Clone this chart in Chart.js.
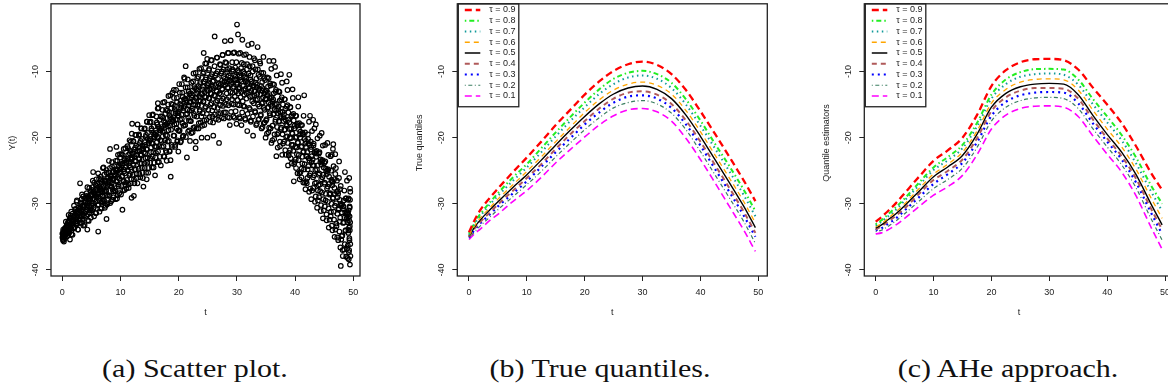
<!DOCTYPE html>
<html><head><meta charset="utf-8">
<script src="https://cdn.jsdelivr.net/npm/chart.js@4.4.1/dist/chart.umd.min.js"></script>
<style>
html,body{margin:0;padding:0;background:#fff;width:1168px;height:390px;overflow:hidden;position:relative}
canvas{position:absolute;top:0}
.cap{position:absolute;top:355px;font-family:"Liberation Serif","Times New Roman",serif;font-size:25px;color:#111;white-space:nowrap;transform-origin:center;}
</style></head><body>
<canvas id="pa" width="390" height="330" style="left:0px"></canvas>
<canvas id="pb" width="390" height="330" style="left:390px"></canvas>
<canvas id="pc" width="400" height="330" style="left:780px"></canvas>
<div class="cap" id="capa"></div>
<div class="cap" id="capb"></div>
<div class="cap" id="capc"></div>
<script>
// ---------------- data ----------------
const xTicks = [0, 10, 20, 30, 40, 50];
const xTickLabels = ['0', '10', '20', '30', '40', '50'];
const yTicks = [-40, -30, -20, -10];
const yTickLabels = ['-40', '-30', '-20', '-10'];
const xTitle = 't';
const yTitles = ['Y(t)', 'True quantiles', 'Quantile estimators'];
const captions = ['(a) Scatter plot.', '(b) True quantiles.', '(c) AHe approach.'];
const tauLabels = ['τ = 0.9', 'τ = 0.8', 'τ = 0.7', 'τ = 0.6', 'τ = 0.5', 'τ = 0.4', 'τ = 0.3', 'τ = 0.2', 'τ = 0.1'];

const tGrid = [0, 1, 2, 3.5, 5, 7.5, 10, 12.5, 15, 17.5, 20, 22.5, 25, 27.5, 30, 32.5, 35, 37.5, 40, 42.5, 45, 47.5, 49.5];

const trueQ90 = [-34.3,-32.4,-30.9,-29.2,-27.7,-25.3,-23.0,-20.6,-18.1,-15.8,-13.5,-11.5,-9.9,-8.9,-8.5,-9.0,-10.4,-12.8,-16.0,-19.4,-22.9,-26.5,-29.6];
const trueQ80 = [-34.5,-32.8,-31.5,-29.9,-28.4,-26.1,-24.0,-21.6,-19.2,-16.9,-14.7,-12.7,-11.1,-10.2,-9.9,-10.4,-11.7,-14.2,-17.4,-20.9,-24.3,-27.9,-31.1];
const trueQ70 = [-34.7,-33.0,-31.8,-30.2,-28.8,-26.6,-24.5,-22.2,-19.8,-17.5,-15.4,-13.4,-11.9,-10.9,-10.6,-11.1,-12.5,-15.0,-18.2,-21.6,-25.1,-28.7,-31.9];
const trueQ60 = [-34.8,-33.3,-32.1,-30.7,-29.3,-27.2,-25.1,-22.9,-20.6,-18.4,-16.2,-14.3,-12.8,-11.9,-11.6,-12.1,-13.4,-15.9,-19.1,-22.6,-26.1,-29.7,-32.9];
const trueQ50 = [-34.9,-33.5,-32.4,-31.0,-29.7,-27.6,-25.6,-23.4,-21.1,-18.9,-16.8,-14.9,-13.4,-12.5,-12.2,-12.7,-14.1,-16.6,-19.8,-23.3,-26.8,-30.4,-33.6];
const trueQ40 = [-35.0,-33.7,-32.7,-31.4,-30.1,-28.1,-26.1,-24.0,-21.7,-19.5,-17.5,-15.6,-14.1,-13.2,-13.0,-13.5,-14.9,-17.4,-20.6,-24.1,-27.6,-31.2,-34.4];
const trueQ30 = [-35.1,-33.9,-32.9,-31.7,-30.4,-28.5,-26.6,-24.4,-22.2,-20.1,-18.0,-16.2,-14.7,-13.8,-13.6,-14.1,-15.5,-18.0,-21.2,-24.7,-28.2,-31.8,-35.0];
const trueQ20 = [-35.2,-34.2,-33.3,-32.1,-30.9,-29.0,-27.1,-25.1,-22.9,-20.8,-18.8,-17.0,-15.5,-14.7,-14.4,-14.9,-16.3,-18.8,-22.1,-25.6,-29.1,-32.7,-36.0];
const trueQ10 = [-35.4,-34.5,-33.8,-32.6,-31.6,-29.7,-28.0,-26.0,-23.8,-21.8,-19.9,-18.1,-16.7,-15.8,-15.6,-16.1,-17.5,-20.1,-23.3,-26.8,-30.4,-34.0,-37.2];

const aheQ90 = [-32.7,-32.0,-31.2,-29.9,-28.4,-25.9,-23.5,-21.9,-20.0,-16.6,-12.2,-9.8,-8.6,-8.15,-8.1,-8.3,-9.7,-12.4,-15.0,-17.8,-21.3,-25.2,-27.9];
const aheQ80 = [-33.1,-32.5,-31.7,-30.5,-29.2,-26.8,-24.5,-22.9,-21.1,-17.8,-13.5,-11.2,-10.1,-9.65,-9.6,-9.7,-11.2,-14.1,-16.8,-19.6,-23.0,-27.1,-30.0];
const aheQ70 = [-33.3,-32.7,-32.0,-30.9,-29.5,-27.2,-24.9,-23.4,-21.6,-18.3,-14.1,-11.9,-10.8,-10.4,-10.3,-10.5,-12.0,-14.9,-17.7,-20.4,-23.9,-28.0,-31.1];
const aheQ60 = [-33.5,-33.0,-32.3,-31.2,-30.0,-27.7,-25.5,-24.0,-22.2,-19.0,-14.8,-12.7,-11.6,-11.2,-11.1,-11.25,-12.8,-15.8,-18.7,-21.4,-24.8,-29.0,-32.2];
const aheQ50 = [-33.7,-33.2,-32.5,-31.5,-30.3,-28.1,-25.9,-24.4,-22.7,-19.5,-15.4,-13.3,-12.3,-11.9,-11.8,-11.9,-13.5,-16.6,-19.5,-22.2,-25.6,-29.9,-33.2];
const aheQ40 = [-33.9,-33.4,-32.8,-31.8,-30.7,-28.5,-26.4,-25.0,-23.3,-20.1,-16.0,-13.9,-12.9,-12.5,-12.5,-12.6,-14.1,-17.2,-20.1,-22.8,-26.2,-30.6,-33.9];
const aheQ30 = [-34.0,-33.7,-33.1,-32.2,-31.0,-29.0,-27.0,-25.5,-23.8,-20.7,-16.7,-14.6,-13.6,-13.2,-13.1,-13.2,-14.8,-17.8,-20.6,-23.3,-26.8,-31.2,-34.6];
const aheQ20 = [-34.2,-34.0,-33.5,-32.6,-31.5,-29.6,-27.7,-26.3,-24.6,-21.5,-17.5,-15.4,-14.4,-14.0,-13.9,-14.1,-15.6,-18.6,-21.4,-24.1,-27.6,-32.1,-35.5];
const aheQ10 = [-34.55,-34.4,-34.0,-33.2,-32.2,-30.4,-28.7,-27.4,-25.7,-22.6,-18.7,-16.6,-15.6,-15.25,-15.2,-15.4,-16.8,-19.7,-22.5,-25.2,-28.8,-33.4,-36.9];

const scatterTY = [
[0.02,-35.1],[0.08,-34.6],[0.11,-35.5],[0.15,-34.2],[0.19,-35.0],[0.24,-34.8],[0.28,-35.7],[0.31,-34.3],[0.36,-34.9],[0.4,-33.8],[0.45,-35.2],[0.5,-34.4],[0.55,-33.9],[0.6,-34.7],[0.66,-33.5],[0.71,-34.1],[0.77,-33.2],[0.83,-34.5],[0.9,-33.6],[0.96,-32.8],
[1.03,-33.9],[1.1,-32.6],[1.17,-34.3],[1.22,-33.1],[1.3,-32.2],[1.32,-35.4],[1.36,-33.6],[1.42,-31.8],[1.5,-33.0],[1.57,-34.6],[1.63,-32.5],[1.7,-33.3],[1.76,-31.5],[1.83,-32.9],[1.9,-33.7],[1.96,-32.0],
[2.05,-31.9],[2.12,-33.5],[2.2,-30.8],[2.28,-32.3],[2.35,-31.2],[2.43,-33.0],[2.5,-29.5],[2.58,-32.0],[2.65,-31.5],[2.72,-33.9],[2.8,-30.6],[2.87,-32.4],[2.95,-31.0],[3.05,-26.9],
[3.1,-30.2],[3.16,-32.4],[3.24,-31.0],[3.31,-29.3],[3.39,-32.9],[3.46,-30.8],[3.53,-31.6],[3.6,-28.9],[3.68,-31.9],[3.75,-30.3],[3.83,-33.2],[3.9,-29.8],[3.97,-31.2],
[4.04,-29.6],[4.11,-31.8],[4.19,-28.4],[4.26,-30.9],[4.3,-33.9],[4.34,-29.9],[4.41,-32.5],[4.49,-28.9],[4.56,-30.4],[4.64,-27.6],[4.71,-31.3],[4.79,-29.2],[4.86,-30.8],[4.94,-28.6],
[5.03,-28.7],[5.1,-31.0],[5.18,-27.5],[5.25,-29.9],[5.3,-25.2],[5.33,-28.2],[5.4,-30.6],[5.48,-26.8],[5.55,-29.3],[5.63,-27.9],[5.7,-31.4],[5.78,-28.5],[5.85,-26.3],[5.93,-29.6],
[6.02,-27.6],[6.09,-30.2],[6.17,-34.2],[6.24,-28.4],[6.32,-26.2],[6.39,-29.1],[6.47,-27.0],[6.54,-30.7],[6.62,-25.9],[6.69,-28.0],[6.77,-29.8],[6.84,-26.7],[6.92,-28.9],[6.98,-24.6],
[7.05,-27.3],[7.12,-29.5],[7.2,-25.6],[7.27,-28.1],[7.35,-26.5],[7.42,-30.3],[7.5,-27.9],[7.57,-24.9],[7.6,-32.3],[7.65,-28.7],[7.72,-26.1],[7.8,-29.9],[7.87,-27.0],[7.95,-25.3],
[8.03,-26.5],[8.1,-28.8],[8.18,-24.6],[8.2,-21.7],[8.25,-27.3],[8.33,-25.8],[8.4,-29.6],[8.48,-26.9],[8.55,-23.7],[8.63,-27.8],[8.7,-25.2],[8.78,-29.0],[8.85,-26.2],[8.93,-24.3],
[9.04,-25.7],[9.11,-28.1],[9.19,-23.5],[9.26,-26.6],[9.3,-21.4],[9.34,-24.9],[9.41,-29.2],[9.49,-26.0],[9.56,-22.6],[9.64,-27.1],[9.71,-24.3],[9.79,-28.4],[9.86,-25.3],[9.94,-23.0],
[10.03,-24.8],[10.1,-27.3],[10.18,-22.5],[10.25,-25.9],[10.33,-30.9],[10.4,-23.9],[10.48,-26.5],[10.55,-21.7],[10.63,-25.1],[10.7,-27.9],[10.78,-23.2],[10.85,-24.5],[10.93,-26.8],
[11.04,-23.8],[11.11,-26.4],[11.19,-21.3],[11.26,-24.9],[11.34,-22.6],[11.41,-27.6],[11.49,-24.2],[11.56,-20.4],[11.64,-25.5],[11.71,-22.0],[11.79,-26.9],[11.86,-23.3],[11.9,-29.1],[11.94,-19.4],
[12.0,-17.9],[12.03,-23.1],[12.1,-25.6],[12.18,-20.5],[12.25,-24.2],[12.3,-28.8],[12.33,-21.8],[12.4,-26.9],[12.48,-23.5],[12.55,-19.6],[12.63,-24.8],[12.7,-21.2],[12.78,-26.1],[12.85,-22.6],[12.93,-18.0],
[13.04,-22.1],[13.11,-24.7],[13.19,-19.5],[13.26,-23.2],[13.34,-20.8],[13.41,-26.0],[13.49,-22.5],[13.56,-18.6],[13.64,-23.9],[13.71,-20.2],[13.79,-25.3],[13.86,-21.6],[13.94,-27.4],
[14.03,-21.3],[14.1,-23.9],[14.18,-18.6],[14.25,-22.4],[14.33,-19.9],[14.4,-25.3],[14.48,-21.7],[14.5,-26.3],[14.55,-17.6],[14.63,-23.0],[14.7,-19.3],[14.78,-24.6],[14.85,-20.8],[14.93,-16.6],
[15.04,-20.4],[15.11,-23.1],[15.19,-17.6],[15.26,-21.5],[15.34,-18.9],[15.41,-24.5],[15.49,-20.8],[15.56,-16.5],[15.64,-22.2],[15.71,-18.3],[15.79,-23.8],[15.86,-19.9],[15.94,-25.7],
[16.03,-19.6],[16.1,-22.3],[16.18,-16.8],[16.25,-20.7],[16.33,-18.0],[16.4,-23.7],[16.42,-14.8],[16.48,-19.9],[16.55,-15.5],[16.63,-21.3],[16.7,-17.3],[16.78,-22.9],[16.85,-18.9],[16.93,-24.2],
[17.04,-18.7],[17.11,-21.4],[17.19,-15.8],[17.26,-19.8],[17.34,-17.0],[17.41,-22.8],[17.49,-19.0],[17.56,-14.6],[17.64,-20.4],[17.71,-16.4],[17.79,-22.0],[17.86,-18.0],[17.94,-23.5],
[18.03,-17.9],[18.1,-20.6],[18.18,-15.0],[18.25,-18.9],[18.33,-16.1],[18.4,-22.0],[18.48,-18.2],[18.55,-13.6],[18.6,-23.4],[18.63,-25.9],[18.7,-15.6],[18.78,-21.1],[18.85,-17.2],[18.93,-13.2],
[19.04,-16.9],[19.11,-19.7],[19.19,-14.0],[19.26,-18.0],[19.34,-15.2],[19.41,-21.1],[19.49,-17.3],[19.56,-12.8],[19.64,-18.6],[19.71,-14.6],[19.79,-20.4],[19.86,-16.3],[19.94,-22.1],
[20.03,-16.1],[20.1,-19.0],[20.18,-13.2],[20.25,-17.3],[20.33,-14.4],[20.4,-20.5],[20.48,-16.5],[20.55,-11.9],[20.63,-17.8],[20.7,-13.8],[20.78,-19.7],[20.85,-15.5],[20.93,-10.9],
[21.04,-15.2],[21.11,-18.1],[21.19,-12.4],[21.2,-9.2],[21.26,-16.5],[21.34,-13.6],[21.41,-23.0],[21.49,-15.7],[21.56,-11.2],[21.64,-17.0],[21.71,-13.0],[21.79,-18.9],[21.86,-14.7],[21.94,-20.5],
[22.03,-14.6],[22.1,-17.5],[22.18,-11.7],[22.25,-15.9],[22.33,-12.9],[22.4,-19.2],[22.48,-15.0],[22.55,-10.3],[22.63,-16.4],[22.7,-12.2],[22.78,-18.4],[22.86,-14.0],[22.9,-21.6],[22.93,-20.6],
[23.04,-14.0],[23.11,-16.8],[23.19,-11.0],[23.26,-15.2],[23.34,-12.2],[23.41,-18.6],[23.49,-14.4],[23.56,-9.6],[23.64,-15.8],[23.71,-11.6],[23.79,-17.7],[23.86,-13.4],[23.94,-20.0],
[24.03,-13.4],[24.1,-16.3],[24.18,-10.3],[24.25,-14.6],[24.3,-7.2],[24.33,-11.5],[24.4,-18.1],[24.48,-13.8],[24.55,-8.8],[24.63,-15.3],[24.7,-10.9],[24.78,-17.3],[24.86,-12.8],[24.9,-8.1],[24.93,-20.0],
[25.04,-12.9],[25.11,-15.8],[25.19,-9.8],[25.26,-14.1],[25.34,-11.0],[25.41,-17.6],[25.49,-13.3],[25.56,-8.3],[25.64,-14.8],[25.71,-10.4],[25.79,-16.8],[25.86,-12.3],[25.94,-19.7],
[26.03,-12.5],[26.1,-15.4],[26.18,-4.7],[26.25,-13.7],[26.33,-10.6],[26.4,-17.2],[26.48,-12.9],[26.55,-7.9],[26.63,-14.4],[26.7,-10.0],[26.78,-16.4],[26.86,-11.9],[26.93,-20.8],
[27.04,-12.2],[27.11,-15.1],[27.19,-9.0],[27.26,-13.5],[27.34,-10.3],[27.41,-17.0],[27.48,-12.6],[27.56,-7.5],[27.63,-14.1],[27.71,-9.7],[27.78,-16.2],[27.86,-11.6],[27.93,-5.4],
[28.03,-12.0],[28.1,-15.0],[28.18,-8.7],[28.25,-13.3],[28.33,-10.1],[28.4,-16.9],[28.48,-12.4],[28.55,-7.2],[28.63,-13.9],[28.7,-9.5],[28.78,-18.1],[28.86,-11.4],[28.93,-5.3],
[29.04,-11.9],[29.11,-14.9],[29.19,-8.6],[29.26,-13.2],[29.34,-10.0],[29.41,-16.8],[29.48,-12.3],[29.56,-7.1],[29.63,-13.8],[29.71,-9.4],[29.78,-16.0],[29.86,-11.3],[29.93,-17.9],
[30.02,-2.9],[30.04,-12.0],[30.11,-15.0],[30.19,-4.4],[30.26,-13.3],[30.34,-10.1],[30.41,-16.9],[30.48,-12.4],[30.56,-7.2],[30.63,-13.9],[30.71,-9.5],[30.78,-18.1],[30.86,-11.5],[30.93,-5.2],
[31.04,-12.2],[31.11,-15.2],[31.19,-8.9],[31.26,-13.5],[31.34,-10.3],[31.41,-17.1],[31.48,-12.6],[31.56,-7.4],[31.63,-14.1],[31.71,-9.7],[31.78,-19.0],[31.86,-11.7],[31.93,-6.0],
[32.04,-12.5],[32.11,-15.5],[32.19,-9.2],[32.26,-13.8],[32.34,-10.6],[32.41,-17.4],[32.48,-12.9],[32.56,-5.8],[32.63,-14.5],[32.71,-10.0],[32.78,-19.7],[32.86,-12.1],[32.93,-8.0],
[33.04,-13.0],[33.11,-16.0],[33.19,-9.7],[33.26,-14.3],[33.34,-11.1],[33.41,-17.9],[33.48,-13.4],[33.56,-6.3],[33.63,-15.0],[33.71,-10.5],[33.78,-17.2],[33.86,-12.6],[33.93,-8.5],
[34.04,-13.5],[34.11,-16.5],[34.19,-10.2],[34.26,-14.8],[34.34,-11.6],[34.41,-18.4],[34.48,-13.9],[34.56,-7.8],[34.63,-15.5],[34.71,-11.0],[34.78,-17.7],[34.86,-13.1],[34.93,-20.0],
[35.04,-14.2],[35.11,-17.2],[35.19,-10.9],[35.26,-15.5],[35.34,-12.3],[35.41,-19.2],[35.48,-14.7],[35.56,-8.4],[35.63,-16.3],[35.71,-11.8],[35.78,-18.6],[35.86,-13.9],[35.93,-20.8],
[36.04,-15.2],[36.11,-18.2],[36.19,-11.9],[36.26,-16.5],[36.3,-8.4],[36.34,-13.3],[36.41,-20.2],[36.48,-15.7],[36.56,-9.3],[36.63,-17.3],[36.71,-12.8],[36.78,-22.8],[36.86,-14.9],[36.93,-19.5],
[37.04,-16.3],[37.11,-19.3],[37.19,-13.0],[37.26,-17.6],[37.34,-14.4],[37.41,-21.3],[37.48,-16.8],[37.56,-10.4],[37.63,-18.5],[37.71,-13.9],[37.78,-22.6],[37.86,-16.1],[37.93,-20.9],
[38.04,-17.5],[38.11,-20.6],[38.19,-14.2],[38.26,-18.8],[38.34,-15.6],[38.41,-22.6],[38.48,-18.0],[38.56,-11.5],[38.63,-19.8],[38.71,-15.1],[38.78,-24.2],[38.86,-17.3],[38.93,-22.3],
[39.0,-10.5],[39.04,-18.7],[39.11,-21.9],[39.19,-15.4],[39.26,-20.1],[39.34,-16.8],[39.41,-23.9],[39.48,-19.3],[39.56,-12.7],[39.63,-21.1],[39.71,-16.4],[39.78,-26.6],[39.86,-18.6],[39.93,-23.7],
[40.04,-20.0],[40.11,-23.3],[40.19,-16.7],[40.26,-21.5],[40.34,-18.1],[40.41,-25.4],[40.48,-20.7],[40.56,-13.9],[40.63,-22.6],[40.71,-17.8],[40.78,-26.3],[40.86,-20.0],[40.93,-25.2],
[41.04,-21.4],[41.11,-24.7],[41.19,-18.1],[41.26,-22.9],[41.34,-19.5],[41.41,-26.8],[41.48,-22.1],[41.56,-13.6],[41.63,-24.0],[41.71,-19.2],[41.78,-27.8],[41.86,-21.4],[41.93,-26.6],
[42.04,-22.8],[42.11,-26.1],[42.19,-19.5],[42.26,-24.3],[42.34,-20.9],[42.41,-28.2],[42.48,-23.5],[42.56,-16.7],[42.63,-25.4],[42.71,-20.6],[42.78,-29.3],[42.86,-22.8],[42.93,-28.0],
[43.04,-24.2],[43.1,-17.3],[43.11,-27.6],[43.19,-20.9],[43.26,-25.7],[43.34,-22.3],[43.41,-29.7],[43.48,-24.9],[43.56,-18.0],[43.63,-26.8],[43.71,-22.0],[43.78,-30.6],[43.86,-24.2],[43.93,-29.5],
[44.04,-25.6],[44.11,-29.0],[44.19,-22.2],[44.26,-27.1],[44.34,-23.7],[44.41,-31.1],[44.48,-26.3],[44.56,-19.3],[44.63,-28.3],[44.71,-23.4],[44.78,-32.2],[44.86,-25.6],[44.93,-31.0],
[45.04,-27.0],[45.11,-30.4],[45.19,-23.6],[45.26,-28.5],[45.34,-25.1],[45.41,-32.5],[45.48,-27.7],[45.56,-20.8],[45.63,-29.7],[45.71,-24.8],[45.78,-33.6],[45.86,-27.0],[45.93,-32.4],
[46.04,-28.4],[46.11,-31.9],[46.19,-25.0],[46.26,-30.0],[46.3,-22.6],[46.34,-26.6],[46.41,-34.0],[46.48,-29.2],[46.5,-21.7],[46.56,-21.0],[46.63,-31.2],[46.71,-26.3],[46.78,-35.0],[46.86,-28.5],[46.9,-22.5],[46.93,-33.9],
[47.04,-29.9],[47.11,-33.4],[47.19,-26.5],[47.26,-31.5],[47.34,-28.1],[47.41,-35.5],[47.48,-30.7],[47.56,-23.6],[47.63,-32.7],[47.71,-27.8],[47.78,-36.6],[47.85,-39.4],[47.86,-30.0],[47.93,-35.4],
[48.04,-31.3],[48.11,-34.8],[48.19,-37.9],[48.26,-32.9],[48.34,-29.5],[48.41,-36.9],[48.48,-32.1],[48.56,-25.2],[48.63,-34.1],[48.71,-29.2],[48.78,-38.0],[48.86,-31.4],[48.93,-36.8],
[49.02,-32.8],[49.06,-36.3],[49.1,-29.4],[49.14,-34.4],[49.18,-31.0],[49.22,-38.4],[49.26,-33.6],[49.28,-37.0],[49.3,-26.1],[49.34,-35.5],[49.36,-31.9],[49.38,-30.6],[49.4,-34.0],[49.42,-39.2],[49.44,-29.4],[49.46,-32.8],[49.48,-28.2],[49.5,-37.9]
];

const scatterTY2 = [
[0.01,-34.5],[0.09,-35.0],[0.16,-33.9],[0.24,-35.4],[0.31,-34.4],[0.39,-34.9],[0.46,-33.7],[0.54,-34.2],[0.61,-32.7],[0.69,-34.6],[0.76,-33.4],[0.84,-34.9],[0.91,-33.4],
[1.01,-33.3],[1.09,-31.7],[1.16,-34.4],[1.24,-32.8],[1.31,-33.7],[1.39,-32.1],[1.46,-33.1],[1.54,-31.2],[1.61,-34.0],[1.69,-32.4],[1.76,-34.7],[1.84,-32.7],[1.91,-32.5],
[2.01,-30.3],[2.09,-33.6],[2.16,-31.7],[2.24,-32.7],[2.31,-30.8],[2.39,-32.0],[2.46,-29.7],[2.54,-33.1],[2.61,-31.2],[2.69,-33.9],[2.76,-31.5],[2.84,-31.3],[2.91,-32.3],
[3.01,-32.9],[3.09,-30.7],[3.16,-31.9],[3.24,-29.8],[3.31,-31.1],[3.39,-28.6],[3.46,-32.4],[3.54,-30.2],[3.61,-33.3],[3.69,-30.5],[3.76,-30.3],[3.84,-31.4],[3.91,-29.2],
[4.01,-29.8],[4.09,-31.1],[4.16,-28.8],[4.24,-30.2],[4.31,-27.5],[4.39,-31.6],[4.46,-29.2],[4.54,-32.6],[4.61,-29.6],[4.69,-29.4],[4.76,-30.5],[4.84,-28.2],[4.91,-32.1],
[5.01,-30.3],[5.09,-27.9],[5.16,-29.4],[5.24,-26.5],[5.31,-30.8],[5.39,-28.3],[5.46,-31.9],[5.54,-28.7],[5.61,-28.5],[5.69,-29.7],[5.76,-27.2],[5.84,-31.4],[5.91,-28.9],
[6.01,-26.9],[6.09,-28.6],[6.16,-25.4],[6.24,-30.1],[6.31,-27.4],[6.39,-31.2],[6.46,-27.8],[6.54,-27.6],[6.61,-28.9],[6.69,-26.3],[6.76,-30.7],[6.84,-28.1],[6.91,-29.6],
[7.01,-27.8],[7.09,-24.5],[7.16,-29.4],[7.24,-26.6],[7.31,-30.6],[7.39,-27.0],[7.46,-26.7],[7.54,-28.1],[7.61,-25.3],[7.69,-30.1],[7.76,-27.3],[7.84,-28.8],[7.91,-26.0],
[8.01,-23.5],[8.09,-28.7],[8.16,-25.7],[8.24,-29.9],[8.31,-26.2],[8.39,-25.9],[8.46,-27.4],[8.54,-24.4],[8.61,-29.4],[8.69,-26.4],[8.76,-28.1],[8.84,-25.1],[8.91,-27.0],
[9.01,-28.0],[9.09,-24.8],[9.16,-29.3],[9.24,-25.3],[9.31,-25.0],[9.39,-26.6],[9.46,-23.5],[9.54,-28.7],[9.61,-25.6],[9.69,-27.4],[9.76,-24.2],[9.84,-26.2],[9.91,-22.5],
[10.01,-24.0],[10.09,-28.6],[10.16,-24.5],[10.24,-24.2],[10.31,-25.8],[10.39,-22.6],[10.46,-28.0],[10.54,-24.8],[10.61,-26.6],[10.69,-23.4],[10.76,-25.4],[10.84,-21.6],[10.91,-27.2],
[11.01,-27.7],[11.09,-23.5],[11.16,-23.2],[11.24,-24.9],[11.31,-21.6],[11.39,-27.1],[11.46,-23.8],[11.54,-25.7],[11.61,-22.4],[11.69,-24.5],[11.76,-20.6],[11.84,-26.3],[11.91,-23.0],
[12.01,-22.6],[12.09,-22.3],[12.16,-24.0],[12.24,-20.6],[12.31,-26.3],[12.39,-22.9],[12.46,-24.8],[12.54,-21.5],[12.61,-23.6],[12.69,-19.6],[12.76,-25.5],[12.84,-22.1],[12.91,-26.9],
[13.01,-21.4],[13.09,-23.1],[13.16,-19.7],[13.24,-25.5],[13.31,-22.0],[13.39,-23.9],[13.46,-20.5],[13.54,-22.7],[13.61,-18.6],[13.69,-24.6],[13.76,-21.2],[13.84,-26.1],[13.91,-21.7],
[14.01,-22.2],[14.09,-18.7],[14.16,-24.6],[14.24,-21.1],[14.31,-23.1],[14.39,-19.6],[14.46,-21.8],[14.54,-17.6],[14.61,-23.8],[14.69,-20.2],[14.76,-25.3],[14.84,-20.8],[14.91,-20.5],
[15.01,-17.7],[15.09,-23.8],[15.16,-20.2],[15.24,-22.2],[15.31,-18.6],[15.39,-20.9],[15.46,-16.6],[15.54,-22.9],[15.61,-19.3],[15.69,-24.5],[15.76,-19.9],[15.84,-19.5],[15.91,-21.3],
[16.01,-23.0],[16.09,-19.3],[16.16,-21.4],[16.24,-17.7],[16.31,-20.0],[16.39,-15.6],[16.46,-22.1],[16.54,-18.4],[16.61,-23.7],[16.69,-18.9],[16.76,-18.6],[16.84,-20.4],[16.91,-16.8],
[17.01,-18.4],[17.09,-20.5],[17.16,-16.8],[17.24,-19.1],[17.31,-14.7],[17.39,-21.3],[17.46,-17.5],[17.54,-22.9],[17.61,-18.1],[17.69,-17.7],[17.76,-19.6],[17.84,-15.8],[17.91,-22.2],
[18.01,-19.7],[18.09,-15.9],[18.16,-18.3],[18.24,-13.7],[18.31,-20.5],[18.39,-16.6],[18.46,-22.1],[18.54,-17.2],[18.61,-16.9],[18.69,-18.8],[18.76,-14.9],[18.84,-21.4],[18.91,-17.6],
[19.01,-15.0],[19.09,-17.4],[19.16,-12.8],[19.24,-19.7],[19.31,-15.7],[19.39,-21.4],[19.46,-16.3],[19.54,-16.0],[19.61,-17.9],[19.69,-14.0],[19.76,-20.6],[19.84,-16.7],[19.91,-18.9],
[20.01,-16.7],[20.09,-11.9],[20.16,-18.9],[20.24,-14.9],[20.31,-20.7],[20.39,-15.5],[20.46,-15.2],[20.54,-17.2],[20.61,-13.2],[20.69,-19.9],[20.76,-15.9],[20.84,-18.2],[20.91,-14.2],
[21.01,-11.1],[21.09,-18.1],[21.16,-14.1],[21.24,-19.9],[21.31,-14.7],[21.39,-14.4],[21.46,-16.4],[21.54,-12.4],[21.61,-19.1],[21.69,-15.1],[21.76,-17.4],[21.84,-13.4],[21.91,-15.9],
[22.01,-17.5],[22.09,-13.3],[22.16,-19.3],[22.24,-13.9],[22.31,-13.6],[22.39,-15.6],[22.46,-11.5],[22.54,-18.5],[22.61,-14.3],[22.69,-16.7],[22.76,-12.5],[22.84,-15.1],[22.91,-10.2],
[23.01,-12.6],[23.09,-18.6],[23.16,-13.3],[23.24,-12.9],[23.31,-15.0],[23.39,-10.8],[23.46,-17.8],[23.54,-13.7],[23.61,-16.0],[23.69,-11.9],[23.76,-14.5],[23.84,-9.5],[23.91,-16.8],
[24.01,-18.2],[24.09,-12.7],[24.16,-12.3],[24.24,-14.5],[24.31,-10.1],[24.39,-17.4],[24.46,-13.1],[24.54,-15.5],[24.61,-11.2],[24.69,-13.9],[24.76,-8.8],[24.84,-16.4],[24.91,-12.0],
[25.01,-12.2],[25.09,-11.8],[25.16,-14.0],[25.24,-9.6],[25.31,-16.9],[25.39,-12.6],[25.46,-15.0],[25.54,-10.7],[25.61,-13.4],[25.69,-8.3],[25.76,-15.9],[25.84,-11.5],[25.91,-17.7],
[26.01,-11.4],[26.09,-13.6],[26.16,-9.2],[26.24,-16.5],[26.31,-12.2],[26.39,-14.6],[26.46,-10.3],[26.54,-13.0],[26.61,-7.9],[26.69,-15.5],[26.76,-11.1],[26.84,-17.3],[26.91,-11.8],
[27.01,-13.3],[27.09,-8.9],[27.16,-16.3],[27.24,-11.9],[27.31,-14.4],[27.39,-10.0],[27.46,-12.7],[27.54,-7.5],[27.61,-15.2],[27.69,-10.8],[27.76,-17.1],[27.84,-11.5],[27.91,-11.1],
[28.01,-8.6],[28.09,-16.2],[28.16,-11.7],[28.24,-14.2],[28.31,-9.7],[28.39,-12.5],[28.46,-7.2],[28.54,-15.1],[28.61,-10.6],[28.69,-17.0],[28.76,-11.3],[28.84,-10.9],[28.91,-13.1],
[29.01,-16.1],[29.09,-11.6],[29.16,-14.2],[29.24,-9.7],[29.31,-12.5],[29.39,-7.2],[29.46,-15.0],[29.54,-10.5],[29.61,-17.0],[29.69,-11.2],[29.76,-10.8],[29.84,-13.0],[29.91,-8.6],
[30.01,-11.7],[30.09,-14.3],[30.16,-9.8],[30.24,-12.6],[30.31,-7.3],[30.39,-15.1],[30.46,-10.6],[30.54,-17.1],[30.61,-11.3],[30.69,-10.9],[30.76,-13.1],[30.84,-8.7],[30.91,-16.2],
[31.01,-14.5],[31.09,-10.0],[31.16,-12.8],[31.24,-7.5],[31.31,-15.3],[31.39,-10.8],[31.46,-17.3],[31.54,-11.5],[31.61,-11.1],[31.69,-13.3],[31.76,-8.9],[31.84,-16.4],[31.91,-11.9],
[32.01,-10.3],[32.09,-13.1],[32.16,-7.8],[32.24,-15.7],[32.31,-11.2],[32.39,-17.6],[32.46,-11.9],[32.54,-11.5],[32.61,-13.7],[32.69,-9.2],[32.76,-16.8],[32.84,-12.3],[32.91,-14.8],
[33.01,-13.6],[33.09,-8.3],[33.16,-16.2],[33.24,-11.7],[33.31,-18.1],[33.39,-12.4],[33.46,-12.0],[33.54,-14.2],[33.61,-9.7],[33.69,-17.3],[33.76,-12.8],[33.84,-15.3],[33.91,-10.8],
[34.01,-8.8],[34.09,-16.7],[34.16,-12.2],[34.24,-18.6],[34.31,-12.9],[34.39,-12.5],[34.46,-14.7],[34.54,-10.2],[34.61,-17.8],[34.69,-13.3],[34.76,-15.8],[34.84,-11.3],[34.91,-14.1],
[35.01,-17.4],[35.09,-12.9],[35.16,-19.4],[35.24,-13.6],[35.31,-13.2],[35.39,-15.4],[35.46,-11.0],[35.54,-18.5],[35.61,-14.0],[35.69,-16.6],[35.76,-12.1],[35.84,-14.9],[35.91,-9.6],
[36.01,-13.9],[36.09,-20.4],[36.16,-14.6],[36.24,-14.2],[36.31,-16.4],[36.39,-12.0],[36.46,-19.5],[36.54,-15.0],[36.61,-17.6],[36.69,-13.1],[36.76,-15.9],[36.84,-10.6],[36.91,-18.4],
[37.01,-21.5],[37.09,-15.7],[37.16,-15.3],[37.24,-17.5],[37.31,-13.1],[37.39,-20.6],[37.46,-16.1],[37.54,-18.7],[37.61,-14.2],[37.69,-17.0],[37.76,-11.7],[37.84,-19.5],[37.91,-15.0],
[38.01,-16.9],[38.09,-16.5],[38.16,-18.8],[38.24,-14.2],[38.31,-21.9],[38.39,-17.3],[38.46,-19.9],[38.54,-15.3],[38.61,-18.2],[38.69,-12.8],[38.76,-20.8],[38.84,-16.2],[38.91,-22.7],
[39.01,-17.7],[39.09,-20.0],[39.16,-15.4],[39.24,-23.1],[39.31,-18.6],[39.39,-21.1],[39.46,-16.6],[39.54,-19.4],[39.61,-14.0],[39.69,-22.0],[39.76,-17.4],[39.84,-24.0],[39.91,-18.2],
[40.01,-21.4],[40.09,-16.7],[40.16,-24.6],[40.24,-19.9],[40.31,-22.5],[40.39,-17.9],[40.46,-20.8],[40.54,-15.3],[40.61,-23.4],[40.69,-18.8],[40.76,-25.4],[40.84,-19.5],[40.91,-19.1],
[41.01,-18.1],[41.09,-26.0],[41.16,-21.3],[41.24,-23.9],[41.31,-19.3],[41.39,-22.2],[41.46,-16.7],[41.54,-24.8],[41.61,-20.2],[41.69,-26.8],[41.76,-20.9],[41.84,-20.5],[41.91,-22.8],
[42.01,-26.9],[42.09,-22.2],[42.16,-24.8],[42.24,-20.2],[42.31,-23.1],[42.39,-17.6],[42.46,-25.7],[42.54,-21.1],[42.61,-27.7],[42.69,-21.8],[42.76,-21.4],[42.84,-23.7],[42.91,-19.0],
[43.01,-23.3],[43.09,-26.0],[43.16,-21.2],[43.24,-24.2],[43.31,-18.6],[43.39,-26.9],[43.46,-22.1],[43.54,-28.9],[43.61,-22.9],[43.69,-22.4],[43.76,-24.8],[43.84,-20.1],[43.91,-28.0],
[44.01,-27.2],[44.09,-22.4],[44.16,-25.4],[44.24,-19.7],[44.31,-28.1],[44.39,-23.3],[44.46,-30.2],[44.54,-24.1],[44.61,-23.6],[44.69,-26.0],[44.76,-21.2],[44.84,-29.3],[44.91,-24.5],
[45.01,-23.8],[45.09,-26.8],[45.16,-21.1],[45.24,-29.5],[45.31,-24.7],[45.39,-31.6],[45.46,-25.5],[45.54,-25.0],[45.61,-27.4],[45.69,-22.6],[45.76,-30.7],[45.84,-25.9],[45.91,-28.6],
[46.01,-28.5],[46.09,-22.8],[46.16,-31.2],[46.24,-26.4],[46.31,-33.3],[46.39,-27.2],[46.46,-26.7],[46.54,-29.1],[46.61,-24.3],[46.69,-32.4],[46.76,-27.6],[46.84,-30.3],[46.91,-25.5],
[47.01,-24.6],[47.09,-33.0],[47.16,-28.2],[47.24,-35.1],[47.31,-29.0],[47.39,-28.5],[47.46,-30.9],[47.54,-26.1],[47.61,-34.2],[47.69,-29.4],[47.76,-32.1],[47.84,-27.3],[47.91,-30.3],
[48.01,-34.9],[48.09,-30.1],[48.16,-37.0],[48.24,-30.8],[48.31,-30.4],[48.39,-32.8],[48.46,-28.0],[48.54,-36.1],[48.61,-31.3],[48.69,-34.0],[48.76,-29.2],[48.84,-32.2],[48.91,-26.5],
[49.01,-31.3],[49.05,-38.2],[49.09,-32.1],[49.12,-31.6],[49.16,-34.0],[49.2,-29.2],[49.24,-37.3],[49.28,-32.5],[49.32,-35.2],[49.36,-30.4],[49.4,-33.4],[49.44,-27.7],[49.48,-36.1]
];

// ---------------- styles ----------------
const FONT = '"Liberation Sans", Arial, Helvetica, sans-serif';
const TXT = '#222';
const tauColors = ['#ff0000', '#22ee22', '#119a9a', '#ffa500', '#000000', '#b05a5a', '#0000ff', '#3a7d60', '#ff00ff'];
const tauDash = [[7, 4], [1.5, 3, 5, 3], [1.5, 3.5], [5, 4], [], [5, 4], [2, 4], [1, 2.5, 4, 2.5], [7, 4]];
const tauWidth = [2.3, 2, 2, 1.3, 1.4, 2, 2.2, 1.2, 1.6];

const Y_MIN = -40.92, Y_MAX = -0.67;
const X_AXIS_H = 54;

const framePlugin = {
  id: 'frame',
  afterDraw(chart, args, opts) {
    const {ctx, chartArea: a} = chart;
    ctx.save();
    ctx.strokeStyle = '#222';
    ctx.lineWidth = 1.3;
    ctx.setLineDash([]);
    ctx.strokeRect(a.left, a.top - 6, a.right - a.left, a.bottom - a.top + 6);
    if (opts.legendFrame && chart.legend) {
      const lg = chart.legend;
      const pad = lg.options.labels.padding;
      const fs = lg.options.labels.font.size;
      const n = lg.legendItems.length;
      const bottom = lg.top + pad + n * (fs + pad) + 4.5;
      ctx.strokeRect(a.left + 1, a.top - 6, 60.5, bottom - a.top + 6);
    }
    ctx.restore();
  }
};

const legendShift = {
  id: 'legendShift',
  afterLayout(chart, args, opts) {
    const lg = chart.legend;
    if (!lg || !opts.on) return;
    lg.left += opts.dx; lg.right += opts.dx;
    lg.top += opts.dy; lg.bottom += opts.dy;
  }
};

function scales(p) {
  return {
    x: {
      type: 'linear', min: p.xMin, max: p.xMax,
      afterBuildTicks: s => { s.ticks = xTicks.map(v => ({value: v})); },
      afterFit: s => { s.height = X_AXIS_H; },
      ticks: {font: {family: FONT, size: 9}, color: TXT, padding: 6.5, maxRotation: 0, autoSkip: false,
              callback: (v, i) => xTickLabels[i]},
      grid: {drawOnChartArea: false, drawTicks: true, tickLength: 5, color: '#222', lineWidth: 1},
      border: {display: false},
      title: {display: true, text: xTitle, font: {family: FONT, size: 9}, color: TXT, padding: {top: 0, bottom: 11.6}}
    },
    y: {
      type: 'linear', min: Y_MIN, max: Y_MAX,
      afterBuildTicks: s => { s.ticks = yTicks.map(v => ({value: v})); },
      afterFit: s => { s.width = p.yW; },
      ticks: {font: {family: FONT, size: 9}, color: TXT, padding: 4.4, minRotation: 90, maxRotation: 90,
              crossAlign: 'center', autoSkip: false, callback: (v, i) => yTickLabels[i]},
      grid: {drawOnChartArea: false, drawTicks: true, tickLength: 5, color: '#222', lineWidth: 1},
      border: {display: false},
      title: {display: true, text: p.yTitle, font: {family: FONT, size: 9}, color: TXT, padding: {top: p.yTitlePad, bottom: 0}}
    }
  };
}

function legendOpts(show) {
  return {
    display: show, position: 'chartArea', align: 'start',
    labels: {
      usePointStyle: true, pointStyle: 'line', pointStyleWidth: 15.5, padding: 1.75,
      font: {family: FONT, size: 9}, color: TXT,
      generateLabels(chart) {
        return chart.data.datasets.map((ds, i) => ({
          text: '\u2002' + ds.label, fillStyle: 'transparent', strokeStyle: ds.borderColor,
          lineWidth: ds.borderWidth, lineDash: ds.borderDash, lineCap: 'butt', pointStyle: 'line',
          fontColor: TXT, hidden: false, datasetIndex: i
        }));
      }
    }
  };
}

function quantileDatasets(series) {
  return series.map((arr, k) => ({
    type: 'line', label: tauLabels[k],
    data: tGrid.map((t, i) => ({x: t, y: arr[i]})),
    borderColor: tauColors[k], borderDash: tauDash[k], borderWidth: tauWidth[k],
    backgroundColor: 'transparent', pointRadius: 0, fill: false,
    cubicInterpolationMode: 'monotone'
  }));
}

function makeChart(id, datasets, p, withLegend) {
  return new Chart(document.getElementById(id), {
    data: {datasets},
    options: {
      responsive: false, animation: false, devicePixelRatio: 1,
      layout: {padding: {left: 0, right: p.padR, top: 0, bottom: 0}},
      scales: scales(p),
      plugins: {
        legend: legendOpts(withLegend),
        tooltip: {enabled: false},
        frame: {legendFrame: withLegend},
        legendShift: {on: withLegend, dx: 5.75, dy: 3.75}
      },
      events: []
    },
    plugins: [framePlugin, legendShift]
  });
}

makeChart('pa', [{
  type: 'scatter', label: 'Y(t)',
  data: scatterTY.concat(scatterTY2).map(([t, y]) => ({x: t, y})),
  borderColor: '#000', backgroundColor: 'transparent', pointRadius: 2.3, borderWidth: 1.2, pointStyle: 'circle'
}], {xMin: -1.94, xMax: 51.15, yW: 51, yTitle: yTitles[0], yTitlePad: 7.6, padR: 30}, false);

makeChart('pb', quantileDatasets([trueQ90, trueQ80, trueQ70, trueQ60, trueQ50, trueQ40, trueQ30, trueQ20, trueQ10]),
  {xMin: -2.02, xMax: 51.56, yW: 67.3, yTitle: yTitles[1], yTitlePad: 24.6, padR: 12.7}, true);

makeChart('pc', quantileDatasets([aheQ90, aheQ80, aheQ70, aheQ60, aheQ50, aheQ40, aheQ30, aheQ20, aheQ10]),
  {xMin: -1.97, xMax: 51.5, yW: 84.3, yTitle: yTitles[2], yTitlePad: 41.3, padR: 6.3}, true);

// captions
const capCenters = [195, 600, 1008];
['capa', 'capb', 'capc'].forEach((id, i) => {
  const el = document.getElementById(id);
  el.textContent = captions[i];
  el.style.left = capCenters[i] + 'px';
  el.style.transform = 'translateX(-50%) scaleX(1.2)';
});
</script>
</body></html>
